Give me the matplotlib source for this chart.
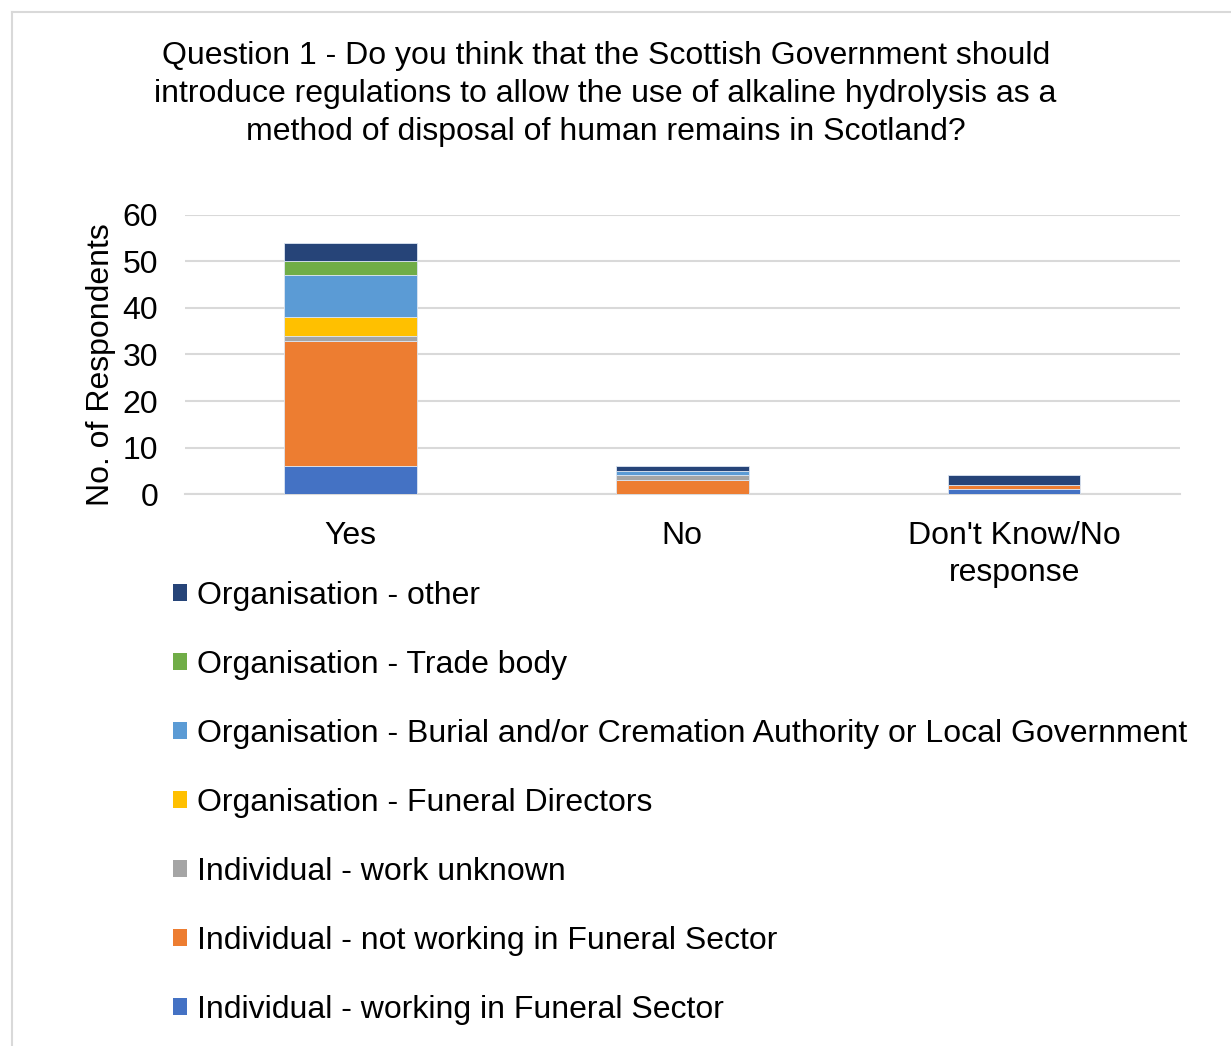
import matplotlib.pyplot as plt
from matplotlib.patches import Patch
from matplotlib.lines import Line2D

plt.rcParams['font.family'] = ['Liberation Sans', 'DejaVu Sans']

categories = ["Yes", "No", "Don't Know/No\nresponse"]
groups = [
    "Individual - working in Funeral Sector",
    "Individual - not working in Funeral Sector",
    "Individual - work unknown",
    "Organisation - Funeral Directors",
    "Organisation - Burial and/or Cremation Authority or Local Government",
    "Organisation - Trade body",
    "Organisation - other",
]
counts = {
    "Individual - working in Funeral Sector": [6, 0, 1],
    "Individual - not working in Funeral Sector": [27, 3, 1],
    "Individual - work unknown": [1, 1, 0],
    "Organisation - Funeral Directors": [4, 0, 0],
    "Organisation - Burial and/or Cremation Authority or Local Government": [9, 1, 0],
    "Organisation - Trade body": [3, 0, 0],
    "Organisation - other": [4, 1, 2],
}
colors = ["#4472C4", "#ED7D31", "#A5A5A5", "#FFC000", "#5B9BD5", "#70AD47", "#264478"]

FS = 23

fig = plt.figure(figsize=(12.31, 10.46), dpi=100)
ax = fig.add_axes([0.150, 0.5277, 0.8086, 0.2668])

x = list(range(len(categories)))
bottom = [0] * len(categories)
for g, c in zip(groups, colors):
    vals = counts[g]
    ax.bar(x, vals, width=0.4, bottom=bottom, color=c, edgecolor="#dde6f2",
           linewidth=0.6, zorder=3)
    bottom = [b + v for b, v in zip(bottom, vals)]

ax.set_xlim(-0.5, 2.5)
ax.set_ylim(0, 60)
ax.set_yticks(range(0, 61, 10))
ax.grid(axis="y", color="#d9d9d9", linewidth=1.5, zorder=0)
ax.set_xticks(x)
ax.set_xticklabels(categories, fontsize=FS, linespacing=1.3)
ax.tick_params(axis="y", labelsize=FS, length=0, pad=19)
ax.tick_params(axis="x", length=0, pad=19.5)
for s in ["top", "right", "left"]:
    ax.spines[s].set_visible(False)
ax.spines["bottom"].set_color("#d9d9d9")
ax.spines["bottom"].set_linewidth(1.5)
ax.set_ylabel("No. of Respondents", fontsize=FS, labelpad=5, y=0.462)

fig.text(0.492, 0.961,
         "Question 1 - Do you think that the Scottish Government should\n"
         "introduce regulations to allow the use of alkaline hydrolysis as a\n"
         "method of disposal of human remains in Scotland?",
         ha="center", va="top", fontsize=FS, linespacing=1.35)

handles = [Patch(facecolor=c, edgecolor="none") for c in colors][::-1]
fig.legend(handles, groups[::-1], loc="upper left", bbox_to_anchor=(0.130, 0.4566),
           frameon=False, fontsize=FS, labelspacing=1.22, handlelength=0.45,
           handleheight=0.45, handletextpad=0.3, borderaxespad=0)

# light frame around the chart area
fig.add_artist(Line2D([12 / 1231, 12 / 1231], [0, 1 - 12 / 1046],
                      transform=fig.transFigure, color="#d9d9d9", linewidth=1.5))
fig.add_artist(Line2D([12 / 1231, 1], [1 - 12 / 1046, 1 - 12 / 1046],
                      transform=fig.transFigure, color="#d9d9d9", linewidth=1.5))

fig.savefig("out.png", dpi=100)
